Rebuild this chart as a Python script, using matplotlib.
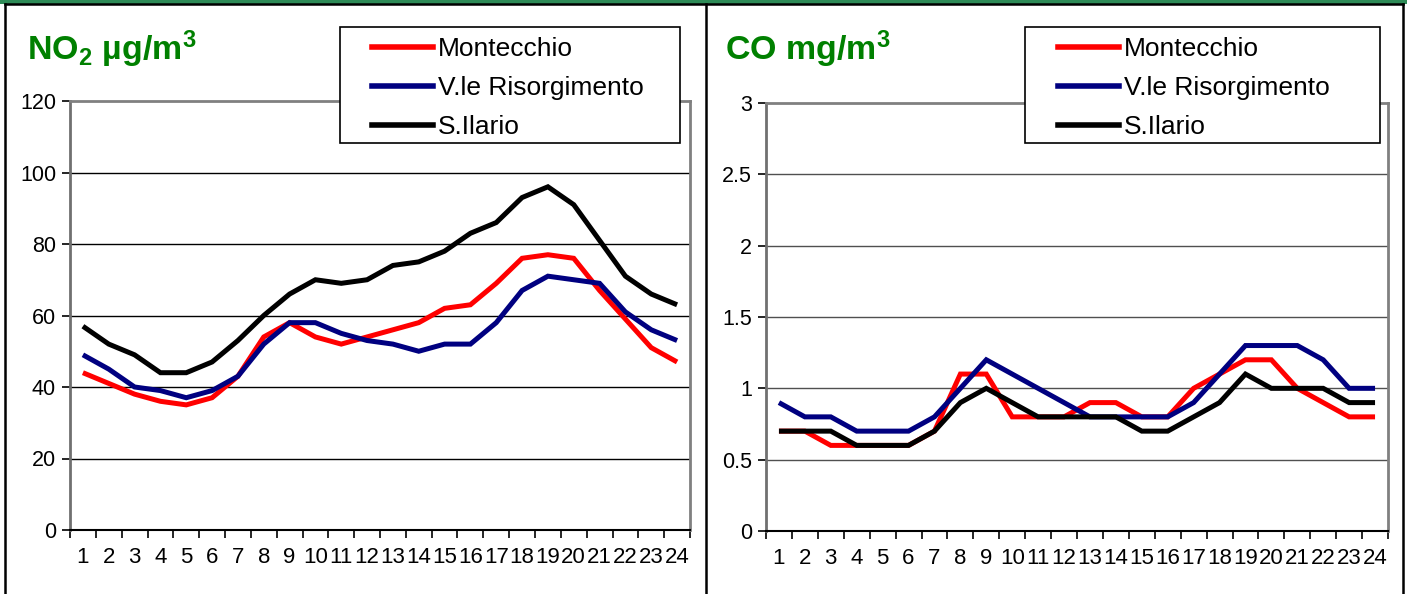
import matplotlib
matplotlib.use("Agg")
import matplotlib.pyplot as plt
from matplotlib.patches import Rectangle
from matplotlib.lines import Line2D
import numpy as np

plt.rcParams['font.family'] = ['Liberation Sans', 'DejaVu Sans']
plt.rcParams['mathtext.fontset'] = 'custom'
plt.rcParams['mathtext.rm'] = 'Liberation Sans:bold'
plt.rcParams['mathtext.it'] = 'Liberation Sans:bold'
plt.rcParams['mathtext.bf'] = 'Liberation Sans:bold'

hours = list(range(1, 25))
series_names = ["Montecchio", "V.le Risorgimento", "S.Ilario"]
series_colors = ["#FF0000", "#000080", "#000000"]

no2_montecchio = [44, 41, 38, 36, 35, 37, 43, 54, 58, 54, 52, 54, 56, 58, 62, 63, 69, 76, 77, 76, 67, 59, 51, 47]
no2_risorgimento = [49, 45, 40, 39, 37, 39, 43, 52, 58, 58, 55, 53, 52, 50, 52, 52, 58, 67, 71, 70, 69, 61, 56, 53]
no2_ilario = [57, 52, 49, 44, 44, 47, 53, 60, 66, 70, 69, 70, 74, 75, 78, 83, 86, 93, 96, 91, 81, 71, 66, 63]

co_montecchio = [0.7, 0.7, 0.6, 0.6, 0.6, 0.6, 0.7, 1.1, 1.1, 0.8, 0.8, 0.8, 0.9, 0.9, 0.8, 0.8, 1.0, 1.1, 1.2, 1.2, 1.0, 0.9, 0.8, 0.8]
co_risorgimento = [0.9, 0.8, 0.8, 0.7, 0.7, 0.7, 0.8, 1.0, 1.2, 1.1, 1.0, 0.9, 0.8, 0.8, 0.8, 0.8, 0.9, 1.1, 1.3, 1.3, 1.3, 1.2, 1.0, 1.0]
co_ilario = [0.7, 0.7, 0.7, 0.6, 0.6, 0.6, 0.7, 0.9, 1.0, 0.9, 0.8, 0.8, 0.8, 0.8, 0.7, 0.7, 0.8, 0.9, 1.1, 1.0, 1.0, 1.0, 0.9, 0.9]

no2_yticks = [0, 20, 40, 60, 80, 100, 120]
co_yticks = [0, 0.5, 1, 1.5, 2, 2.5, 3]
co_yticklabels = ["0", "0.5", "1", "1.5", "2", "2.5", "3"]

W, H = 1407, 594
fig = plt.figure(figsize=(W / 100, H / 100), dpi=100)
fig.patch.set_facecolor('white')

def px(x0, y0, x1, y1):
    return [x0 / W, (H - y1) / H, (x1 - x0) / W, (y1 - y0) / H]

fig.add_artist(Rectangle((0, (H - 4) / H), 1, 4 / H, transform=fig.transFigure,
                         facecolor='#2E8B57', edgecolor='none', zorder=0))
for xs, ys in [([5, 1403], [4, 4]), ([5, 5], [4, 594]), ([706, 706], [4, 594]), ([1403, 1403], [4, 594])]:
    fig.add_artist(Line2D([x / W for x in xs], [(H - y) / H for y in ys],
                          transform=fig.transFigure, color='black', lw=1.8, zorder=1))

def make_panel(rect, data, yticks, yticklabels, grid_color):
    ax = fig.add_axes(rect)
    for vals, c in zip(data, series_colors):
        ax.plot(hours, vals, color=c, lw=3.6, solid_joinstyle='miter', solid_capstyle='butt', zorder=3)
    ax.set_xlim(0.5, 24.5)
    ax.set_ylim(yticks[0], yticks[-1])
    ax.set_yticks(yticks)
    ax.set_yticklabels(yticklabels, fontsize=15.5)
    ax.set_xticks(hours)
    ax.set_xticklabels([str(h) for h in hours], fontsize=16)
    ax.set_xticks(np.arange(0.5, 25, 1.0), minor=True)
    ax.tick_params(axis='x', which='major', length=0, pad=12)
    ax.tick_params(axis='x', which='minor', length=6, width=1.2, color='black', direction='out')
    ax.tick_params(axis='y', which='major', length=6, width=1.2, color='black', direction='out', pad=4)
    for yv in yticks[1:-1]:
        ax.axhline(yv, color=grid_color, lw=1.0, zorder=1)
    ax.spines['top'].set_color('#808080')
    ax.spines['right'].set_color('#808080')
    ax.spines['left'].set_color('#707070')
    ax.spines['bottom'].set_color('black')
    for s in ['top', 'right', 'left']:
        ax.spines[s].set_linewidth(2)
    ax.spines['bottom'].set_linewidth(1.5)
    return ax

ax1 = make_panel(px(70, 101, 690, 530), [no2_montecchio, no2_risorgimento, no2_ilario],
                 no2_yticks, [str(v) for v in no2_yticks], 'black')
ax2 = make_panel(px(766, 103, 1388, 531), [co_montecchio, co_risorgimento, co_ilario],
                 co_yticks, co_yticklabels, '#505050')

fig.text(27 / W, (H - 60) / H, r'NO$_2$ µg/m$^3$', color='#008000', fontsize=24.5,
         fontweight='bold', ha='left', va='baseline')
fig.text(725 / W, (H - 60) / H, r'CO mg/m$^3$', color='#008000', fontsize=24.5,
         fontweight='bold', ha='left', va='baseline')

def make_legend(box, handle_x, mid_y):
    x0, y0, x1, y1 = box
    fig.add_artist(Rectangle((x0 / W, (H - y1) / H), (x1 - x0) / W, (y1 - y0) / H,
                             transform=fig.transFigure, facecolor='white', edgecolor='black',
                             lw=1.2, zorder=4))
    handles = [Line2D([], [], color=c, lw=4) for c in series_colors]
    leg = fig.legend(handles, series_names, loc='center left',
                     bbox_to_anchor=(handle_x / W, (H - mid_y) / H),
                     bbox_transform=fig.transFigure, frameon=False, fontsize=19,
                     handlelength=2.3, handletextpad=0.2, labelspacing=0.56,
                     borderpad=0, borderaxespad=0)
    leg.set_zorder(5)
    return leg

make_legend((340, 27, 680, 143), 372, 88)
make_legend((1025, 27, 1380, 143), 1058, 88)

fig.savefig('out.png', dpi=100)
